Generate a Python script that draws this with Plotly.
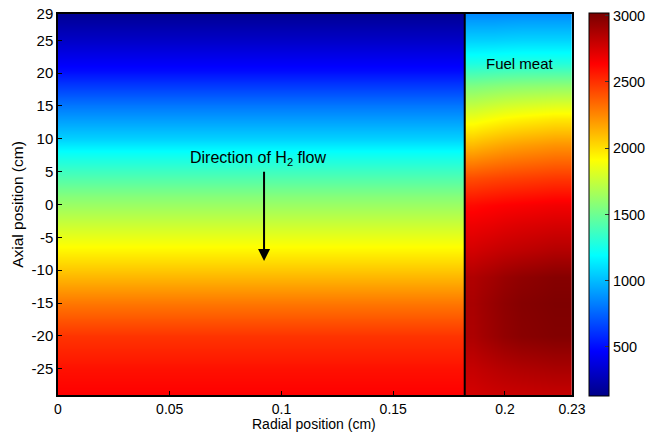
import plotly.graph_objects as go

# ---- data ----
# Coolant (H2 channel) temperature, function of axial position only
coolant_y = [-29, -25, -20, -15, -10, -6.9, -3, 1.1, 4, 7.8, 10, 15, 20.5, 25, 29]
coolant_T = [2640, 2590, 2490, 2297, 2070, 1936, 1760, 1575, 1420, 1214, 1065, 810, 491, 310, 170]
coolant_x_edges = [0, 0.091, 0.182]

# Fuel meat temperature, rows = axial positions, columns = radial bins
fuel_y = [-29, -25, -20, -15, -11, -7, -3, 0, 4, 9, 13, 18, 21.5, 25, 29]
fuel_x_edges = [0.182, 0.19, 0.2, 0.215, 0.23]
fuel_T = [
    [2760, 2780, 2790, 2800],
    [2800, 2830, 2860, 2880],
    [2870, 2920, 2970, 2990],
    [2880, 2930, 2980, 3000],
    [2860, 2900, 2950, 2980],
    [2760, 2790, 2820, 2850],
    [2680, 2700, 2730, 2750],
    [2610, 2630, 2650, 2670],
    [2420, 2440, 2460, 2480],
    [2110, 2150, 2190, 2220],
    [1870, 1910, 1950, 1980],
    [1550, 1570, 1590, 1600],
    [1270, 1280, 1290, 1290],
    [1060, 1060, 1070, 1070],
    [860, 860, 870, 870],
]

x_ticks = [0, 0.05, 0.1, 0.15, 0.2, 0.23]
x_ticklabels = ["0", "0.05", "0.1", "0.15", "0.2", "0.23"]
y_ticks = [-25, -20, -15, -10, -5, 0, 5, 10, 15, 20, 25, 29]
y_ticklabels = ["-25", "-20", "-15", "-10", "-5", "0", "5", "10", "15", "20", "25", "29"]
cbar_ticks = [500, 1000, 1500, 2000, 2500, 3000]
t_min, t_max = 130, 3020
interface_x = 0.182

jet = [
    [0.0, "rgb(0,0,135)"],
    [0.117, "rgb(0,0,255)"],
    [0.367, "rgb(0,255,255)"],
    [0.617, "rgb(255,255,0)"],
    [0.867, "rgb(255,0,0)"],
    [1.0, "rgb(120,0,0)"],
]

font_family = "Liberation Sans, Arial, sans-serif"

fig = go.Figure()
fig.add_trace(go.Heatmap(
    x=coolant_x_edges, y=coolant_y, z=[[t, t] for t in coolant_T],
    coloraxis="coloraxis", zsmooth="best", hoverinfo="skip"))
fig.add_trace(go.Heatmap(
    x=fuel_x_edges, y=fuel_y, z=fuel_T,
    coloraxis="coloraxis", zsmooth="best", hoverinfo="skip"))

fig.add_shape(type="line", x0=interface_x, x1=interface_x, y0=-29, y1=29,
              xref="x", yref="y", line=dict(color="black", width=2))

fig.add_annotation(x=0.0895, y=7.0, xref="x", yref="y",
                   text="Direction of H<sub>2</sub> flow", showarrow=False,
                   font=dict(size=16, color="black", family=font_family))
fig.add_annotation(x=0.0922, y=-8.6, ax=0.0922, ay=5.2, xref="x", yref="y",
                   axref="x", ayref="y", text="", showarrow=True,
                   arrowhead=2, arrowsize=1.2, arrowwidth=2, arrowcolor="black")
fig.add_annotation(x=0.2067, y=21.4, xref="x", yref="y", text="Fuel meat",
                   showarrow=False,
                   font=dict(size=15, color="black", family=font_family))
# x-axis title (placed close to the tick labels, as in the original)
fig.add_annotation(x=0.498, y=-0.076, xref="paper", yref="paper",
                   xanchor="center", yanchor="middle",
                   text="Radial position (cm)", showarrow=False,
                   font=dict(size=14, color="black", family=font_family))

fig.update_layout(
    width=660, height=432,
    margin=dict(l=58, r=88, t=14, b=37, autoexpand=False),
    paper_bgcolor="white", plot_bgcolor="white",
    font=dict(family=font_family, size=15, color="black"),
    coloraxis=dict(
        cmin=t_min, cmax=t_max, colorscale=jet,
        colorbar=dict(
            x=1.033, xanchor="left", y=0.5, yanchor="middle", len=1.005,
            lenmode="fraction", thickness=20, thicknessmode="pixels",
            outlinecolor="black", outlinewidth=1,
            tickvals=cbar_ticks, ticks="inside", ticklen=4, tickcolor="#333",
            tickfont=dict(size=14.5, family=font_family, color="black"),
            xpad=0, ypad=0,
        ),
    ),
    xaxis=dict(
        range=[0, 0.23], tickvals=x_ticks, ticktext=x_ticklabels,
        showline=True, mirror=True, linecolor="black", linewidth=1.5,
        ticks="inside", ticklen=4, tickcolor="black", showgrid=False,
        zeroline=False,
        tickfont=dict(size=14, family=font_family),
    ),
    yaxis=dict(
        range=[-29, 29], tickvals=y_ticks, ticktext=y_ticklabels,
        showline=True, mirror=True, linecolor="black", linewidth=1.5,
        ticks="inside", ticklen=4, tickcolor="black", showgrid=False,
        zeroline=False,
        title=dict(text="Axial position (cm)", standoff=4,
                   font=dict(size=15.5, family=font_family)),
        tickfont=dict(size=15, family=font_family),
    ),
)

fig.write_html(
    "out.html",
    config={"displayModeBar": False},
    post_script="document.body.style.margin='0px';document.body.style.overflow='hidden';",
)
